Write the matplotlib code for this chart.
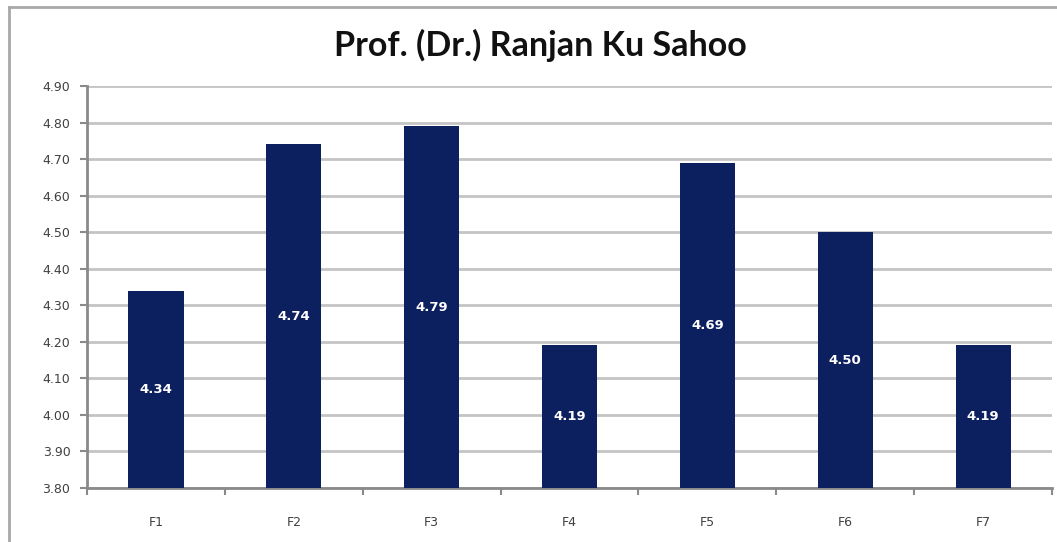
import matplotlib.pyplot as plt
import numpy as np
from matplotlib.lines import Line2D

categories = ['F1', 'F2', 'F3', 'F4', 'F5', 'F6', 'F7']
scores = [4.34, 4.74, 4.79, 4.19, 4.69, 4.50, 4.19]
y_ticks = [3.80, 3.90, 4.00, 4.10, 4.20, 4.30, 4.40, 4.50, 4.60, 4.70, 4.80, 4.90]

bar_color = '#0c1f5f'
grid_color = '#c4c4c4'
axis_color = '#8a8a8a'
text_color = '#404040'

W, H = 1057, 542
fig = plt.figure(figsize=(W / 100, H / 100), dpi=100)
ax = fig.add_axes([87 / W, 1 - 488 / H, (1052 - 87) / W, (488 - 86) / H])

x = np.arange(len(categories))
bars = ax.bar(x, scores, width=0.4, bottom=0, color=bar_color, zorder=3)
ax.set_xlim(-0.5, len(categories) - 0.5)
ax.set_ylim(3.80, 4.90)

for xi, v in zip(x, scores):
    ax.text(xi, (3.80 + v) / 2, '%.2f' % v, ha='center', va='center',
            color='white', fontsize=9.5, fontweight='bold', family='DejaVu Sans', zorder=4)

ax.set_yticks(y_ticks)
ax.set_yticklabels(['%.2f' % t for t in y_ticks], fontsize=9, color=text_color, family='DejaVu Sans')
ax.yaxis.grid(True, color=grid_color, linewidth=2, zorder=0)
ax.set_xticks(x)
ax.set_xticklabels(categories, fontsize=9, color=text_color, family='DejaVu Sans')
ax.tick_params(axis='x', length=0, pad=20)
ax.tick_params(axis='y', length=5, width=1.5, color=axis_color, pad=7)
# category boundary ticks
ax.set_xticks(np.arange(-0.5, len(categories)), minor=True)
ax.tick_params(axis='x', which='minor', length=5, width=1.5, color=axis_color)

for side in ['top', 'right']:
    ax.spines[side].set_visible(False)
for side in ['left', 'bottom']:
    ax.spines[side].set_color(axis_color)
    ax.spines[side].set_linewidth(2)

fig.text(0.5 * (333 + 748) / W, 1 - 45 / H, 'Prof. (Dr.) Ranjan Ku Sahoo', ha='center', va='center',
         fontsize=24.5, fontweight='bold', family='Lato', color='#111111')

# outer chart frame
fig.add_artist(Line2D([9 / W, 9 / W], [0, 1 - 7 / H], transform=fig.transFigure, color='#a8a8a8', lw=2))
fig.add_artist(Line2D([9 / W, 1], [1 - 7 / H, 1 - 7 / H], transform=fig.transFigure, color='#a8a8a8', lw=2))

fig.savefig('out.png', dpi=100)
